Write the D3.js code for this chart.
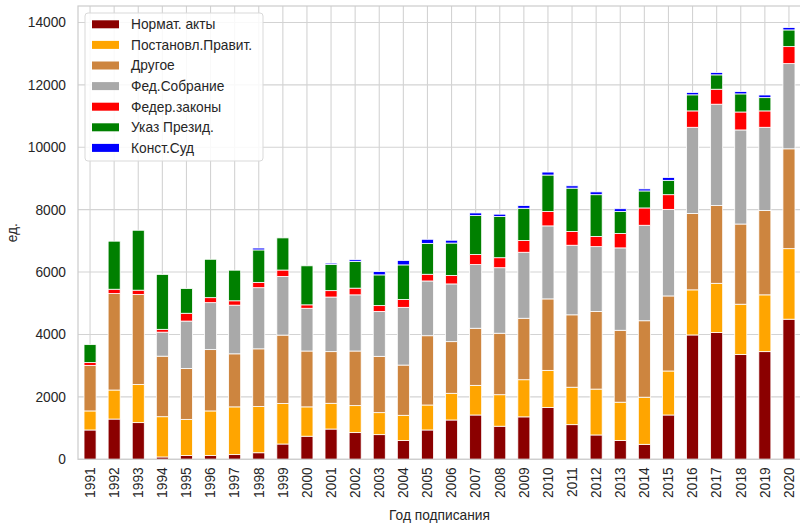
<!DOCTYPE html>
<html><head><meta charset="utf-8">
<script src="https://cdn.jsdelivr.net/npm/d3@7"></script>
<style>
html,body{margin:0;padding:0;background:#fff;}
text{font-family:"Liberation Sans",Arial,sans-serif;fill:#262626;}
</style></head>
<body><svg id="chart" width="800" height="524"></svg>
<script>
const years = [1991,1992,1993,1994,1995,1996,1997,1998,1999,2000,2001,2002,2003,2004,2005,2006,2007,2008,2009,2010,2011,2012,2013,2014,2015,2016,2017,2018,2019,2020];
const normAkty   = [940,1290,1175,75,120,120,150,210,490,740,970,855,790,600,940,1260,1420,1060,1360,1660,1110,780,600,480,1420,3985,4060,3355,3450,4490];
const postPravit = [610,930,1225,1290,1160,1430,1530,1480,1300,940,825,865,705,810,800,855,950,1010,1190,1190,1200,1470,1230,1510,1410,1445,1580,1615,1820,2260];
const drugoe     = [1460,3090,2880,1940,1630,1965,1700,1850,2190,1790,1655,1750,1805,1610,2220,1655,1830,1970,1970,2290,2320,2490,2305,2450,2405,2450,2490,2570,2700,3200];
const fedSobr    = [0,0,0,770,1520,1505,1560,1960,1880,1370,1750,1800,1440,1850,1755,1850,2040,2100,2115,2340,2230,2075,2640,3060,2775,2760,3250,3015,2670,2730];
const federZak   = [90,140,140,90,250,160,140,170,205,110,205,215,185,250,215,270,320,320,375,460,440,325,460,555,470,525,480,575,525,545];
const ukazPrez   = [575,1540,1920,1760,790,1230,980,1040,1030,1250,840,855,985,1110,990,1040,1250,1320,1035,1170,1390,1340,710,545,460,515,460,580,425,535];
const konstSud   = [0,0,0,0,0,0,0,60,0,0,40,55,105,140,130,90,85,75,85,95,75,90,85,65,90,75,75,75,85,75];
const seriesNames  = ["Нормат. акты","Постановл.Правит.","Другое","Фед.Собрание","Федер.законы","Указ Презид.","Конст.Суд"];
const seriesColors = ["#8b0000","#ffa500","#cd853f","#a9a9a9","#ff0000","#008000","#0000ff"];
const yTicks = [0,2000,4000,6000,8000,10000,12000,14000];

const seriesValues = [normAkty,postPravit,drugoe,fedSobr,federZak,ukazPrez,konstSud];
const keys = seriesNames;
const table = years.map((y,i)=>{const o={year:y}; keys.forEach((k,j)=>o[k]=seriesValues[j][i]); return o;});

const svg = d3.select("#chart");
const L=78, R=801, T=6, B=459.3;
const x = d3.scaleBand().domain(years).range([L,R]).paddingInner(0.5).paddingOuter(0.25);
const ymax = d3.max(table, d=>keys.reduce((s,k)=>s+d[k],0))*1.05;
const y = d3.scaleLinear().domain([0,ymax]).range([B,T]);

const grid = svg.append("g");
grid.selectAll("line.h").data(yTicks).join("line")
  .attr("x1",L).attr("x2",R).attr("y1",d=>y(d)).attr("y2",d=>y(d))
  .attr("stroke","#d3d3d3").attr("stroke-width",1.1);
grid.selectAll("line.v").data(years).join("line")
  .attr("x1",d=>x(d)+x.bandwidth()/2).attr("x2",d=>x(d)+x.bandwidth()/2)
  .attr("y1",T).attr("y2",B).attr("stroke","#d3d3d3").attr("stroke-width",1.1);

const stack = d3.stack().keys(keys)(table);
svg.append("g").selectAll("g").data(stack).join("g")
  .attr("fill",(d,i)=>seriesColors[i])
  .selectAll("rect").data(d=>d.filter(p=>p[1]-p[0]>0)).join("rect")
  .attr("x",d=>x(d.data.year)).attr("width",x.bandwidth())
  .attr("y",d=>y(d[1])).attr("height",d=>y(d[0])-y(d[1]))
  .attr("stroke","#fff").attr("stroke-width",0.8);

// spines
svg.append("rect").attr("x",L).attr("y",T).attr("width",R-L).attr("height",B-T)
  .attr("fill","none").attr("stroke","#cccccc").attr("stroke-width",1.2);

// y axis
const yAxis = d3.axisLeft(y).tickValues(yTicks).tickSize(0).tickPadding(12).tickFormat(d3.format("d"));
const gy = svg.append("g").attr("transform",`translate(${L},0)`).call(yAxis);
gy.select(".domain").remove();
gy.selectAll("text").style("font-size","13.75px").attr("fill","#262626");

// x axis
const xAxis = d3.axisBottom(x).tickSize(0).tickPadding(0);
const gx = svg.append("g").attr("transform",`translate(0,${B})`).call(xAxis);
gx.select(".domain").remove();
gx.selectAll("text").style("font-size","13.75px").attr("fill","#262626")
  .attr("transform","rotate(-90)").attr("text-anchor","end")
  .attr("x",-8).attr("y",0).attr("dy","0.35em");

svg.append("text").attr("x",(L+R)/2).attr("y",520).attr("text-anchor","middle")
  .style("font-size","13.75px").text("Год подписания");
svg.append("text").attr("transform",`translate(17,${(T+B)/2}) rotate(-90)`).attr("text-anchor","middle")
  .style("font-size","13.75px").text("ед.");

// legend
const lg = svg.append("g").attr("transform","translate(85,13)");
lg.append("rect").attr("x",0).attr("y",0).attr("width",178).attr("height",148).attr("rx",3)
  .attr("fill","#fff").attr("fill-opacity",0.85).attr("stroke","#d9d9d9").attr("stroke-width",1);
const items = lg.selectAll("g.item").data(seriesNames).join("g")
  .attr("transform",(d,i)=>`translate(0,${11.3+i*20.6})`);
items.append("rect").attr("x",7).attr("y",-4).attr("width",27).attr("height",8)
  .attr("fill",(d,i)=>seriesColors[i]);
items.append("text").attr("x",46).attr("y",0).attr("dy","0.35em")
  .style("font-size","13.75px").text(d=>d);
</script></body></html>
